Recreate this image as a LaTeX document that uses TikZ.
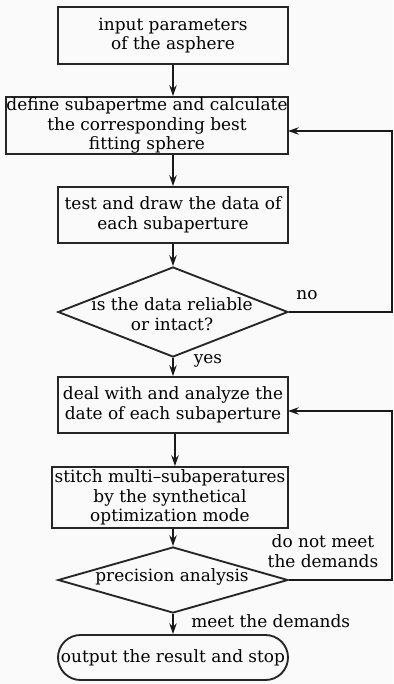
\documentclass[tikz,border=0pt]{standalone}
\usepackage{fontspec}
\setmainfont{DejaVu Serif}
\usetikzlibrary{shapes.geometric,shapes.misc,arrows.meta}
\begin{document}
\begin{tikzpicture}[x=0.75pt,y=-0.75pt,
  box/.style={draw=black!85,line width=1.4pt,rectangle,inner sep=0pt,align=center,font=\fontsize{12.7}{14.6}\selectfont},
  dia/.style={draw=black!85,line width=1.4pt,diamond,inner sep=0pt},
  txt/.style={align=center,inner sep=0pt,font=\fontsize{12.7}{14.6}\selectfont},
  arr/.style={draw=black!90,line width=1.2pt,-{Stealth[length=8pt,width=5.5pt]}}]
\fill[black!2] (0,0) rectangle (393,684);
\useasboundingbox (0,0) rectangle (393,684);
\node[box,minimum width=172.5pt,minimum height=42.75pt] (b1) at (173,35.5) {input parameters\\of the asphere};
\node[box,minimum width=211.5pt,minimum height=42.75pt] (b2) at (147,125.5) {define subapertme and calculate\\the corresponding best\\fitting sphere};
\node[box,minimum width=172.5pt,minimum height=42pt] (b3) at (173,215) {test and draw the data of\\each subaperture};
\node[dia,minimum width=172.5pt,minimum height=67.5pt] (d1) at (173,312) {};
\node[txt] (t1) at (172,314) {is the data reliable\\or intact?};
\node[box,minimum width=172.5pt,minimum height=42pt] (b4) at (173,405) {deal with and analyze the\\date of each subaperture};
\node[box,minimum width=177pt,minimum height=45.75pt] (b5) at (170,497.5) {stitch multi--subaperatures\\by the synthetical\\optimization mode};
\node[dia,minimum width=172.5pt,minimum height=49.5pt] (d2) at (173,580) {};
\node[txt] (t2) at (172,577) {precision analysis};
\node[box,rounded rectangle,minimum width=172.5pt,minimum height=33.75pt] (s) at (173,657.5) {output the result and stop};
\coordinate (rail) at (392,0);
\coordinate (in2) at (288,131);
\coordinate (in4) at (288,411);
\draw[arr] (b1.south) -- (b2.north -| b1.south);
\draw[arr] (b2.south -| b3.north) -- (b3.north);
\draw[arr] (b3.south) -- (d1.north);
\draw[arr] (d1.south) -- (b4.north);
\draw[arr] ([xshift=1.5pt]b4.south) -- ([xshift=1.5pt]b4.south |- b5.north);
\draw[arr] (b5.south -| d2.north) -- (d2.north);
\draw[arr] (d2.south) -- (s.north);
\draw[arr] (d1.east) -| (rail |- in2) -- (in2);
\draw[arr] (d2.east) -| (rail |- in4) -- (in4);
\node[txt] (no) at (307,295) {no};
\node[txt] (yes) at (208,361) {yes};
\node[txt] (dn) at (323,551) {do not meet\\the demands};
\node[txt,anchor=west] (md) at (191,621) {meet the demands};
\end{tikzpicture}
\end{document}
